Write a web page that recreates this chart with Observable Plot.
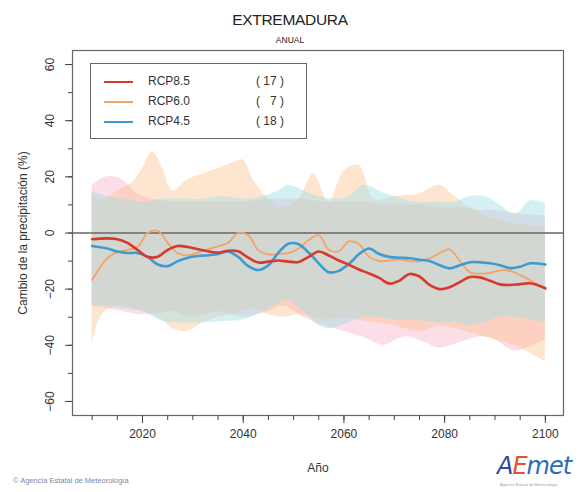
<!DOCTYPE html>
<html>
<head>
<meta charset="utf-8">
<script src="https://cdn.jsdelivr.net/npm/d3@7"></script>
<script src="https://cdn.jsdelivr.net/npm/@observablehq/plot@0.6"></script>
<style>
  html, body { margin: 0; padding: 0; background: #fff; }
  #wrap { position: relative; width: 580px; height: 492px; font-family: "Liberation Sans", Arial, sans-serif; color: #222; overflow: hidden; }
  #wrap svg { position: absolute; left: 0; top: 0; }
  .ov { position: absolute; white-space: nowrap; }
  #title { left: 0; width: 580px; text-align: center; top: 11px; font-size: 15.5px; letter-spacing: -0.3px; }
  #sub { left: 0; width: 580px; text-align: center; top: 35px; font-size: 8.5px; }
  #legend { left: 90px; top: 63px; width: 215px; height: 74px; border: 1px solid #666; background: #fff; font-size: 12px; color: #333; }
  .lrow { position: absolute; left: 0; height: 14px; width: 215px; }
  .lsw { position: absolute; left: 13px; top: 6px; width: 29px; height: 2px; }
  .lname { position: absolute; left: 57px; top: -1px; }
  .lnum { position: absolute; left: 165px; top: -1px; width: 42px; white-space: pre; }
  #foot { left: 13px; top: 476px; font-size: 7.5px; color: #7b88a8; }
  #logo { left: 497px; top: 452px; font-size: 24px; font-style: italic; letter-spacing: -1px; font-family: "DejaVu Sans", sans-serif; }
  #logosub { left: 500px; top: 482px; font-size: 4px; color: #8fa0c0; }
</style>
</head>
<body>
<div id="wrap"></div>
<script>
// ---------- data ----------
const title = "EXTREMADURA";
const subtitle = "ANUAL";
const scenarios = ["RCP8.5", "RCP6.0", "RCP4.5"];
const modelCounts = [17, 7, 18];
const lineColors = ["#d73a2c", "#f2a466", "#3d9ad2"];
const bandColors = ["#f5a0be", "#fcbe87", "#a0dee6"];
const bandOpacity = [0.35, 0.4, 0.45];

const xTicks = [2020, 2040, 2060, 2080, 2100];
const xMinorTicks = [2010, 2015, 2020, 2025, 2030, 2035, 2040, 2045, 2050, 2055, 2060, 2065, 2070, 2075, 2080, 2085, 2090, 2095, 2100];
const yTicks = [-60, -40, -20, 0, 20, 40, 60];
const yMinorTicks = [-60, -50, -40, -30, -20, -10, 0, 10, 20, 30, 40, 50, 60];

// ensemble mean lines
const lineYears = [2010, 2013, 2015, 2017, 2019, 2021, 2023, 2025, 2027, 2029,
  2031, 2033, 2035, 2037, 2039, 2041, 2043, 2045, 2047, 2049,
  2051, 2053, 2055, 2057, 2059, 2061, 2063, 2065, 2067, 2069,
  2071, 2073, 2075, 2077, 2079, 2081, 2083, 2085, 2087, 2089,
  2091, 2093, 2095, 2097, 2100];
const rcp85 = [-2.2, -1.9, -2.2, -3.5, -6, -8.5, -8.5, -6, -4.6, -5,
  -5.8, -6.5, -7, -6.3, -6.5, -8.8, -10.5, -10.2, -9.8, -10.2,
  -10.3, -8.5, -6.6, -8, -9.8, -11.3, -13, -14.4, -16, -18,
  -17, -14.6, -15.5, -18.5, -20, -19.3, -17.5, -15.7, -15.8, -17,
  -18.3, -18.5, -18.2, -17.9, -19.7];
const rcp60 = [-16.7, -9, -6.8, -6, -5, 0, 0.8, -3.5, -7.2, -8,
  -7, -5.8, -4.8, -3.5, 0, -0.8, -6.2, -7.6, -7.5, -7.2,
  -5.5, -2.5, -0.8, -6, -6.5, -3, -4, -8.5, -10, -9.8,
  -9.5, -10, -10, -9, -7.2, -5.8, -10, -14, -14.5, -14.2,
  -13.3, -13.5, -15, -16.8, -20];
const rcp45 = [-4.6, -5.5, -6.6, -7.1, -7.1, -8.5, -11.2, -11.8, -10, -8.8,
  -8.2, -7.9, -7.5, -6.6, -8.5, -11.8, -13.2, -11.5, -7, -3.8,
  -4, -7, -10.8, -14, -13.5, -11, -7.5, -5.5, -7.5, -8.5,
  -8.8, -9, -9.5, -10, -11.5, -12.6, -11.5, -10.4, -10.4, -10.8,
  -11.5, -12.5, -12, -10.8, -11.2];

// spread bands
const years85 = [2010, 2013, 2016, 2019, 2022, 2026, 2030, 2035, 2040, 2045,
  2048, 2052, 2056, 2060, 2065, 2068, 2072, 2076, 2079, 2083,
  2087, 2090, 2094, 2100];
const hi85 = [17, 20, 19, 14, 12, 11, 11, 11, 11, 12,
  12, 12, 11, 11, 11, 10, 10, 10, 9, 9,
  8, 8, 7, 6];
const lo85 = [-26, -27, -28, -29, -29, -28, -30, -28, -30, -28,
  -26, -30, -33, -35, -38, -40, -37, -39, -41, -39,
  -37, -38, -42, -38];

const years60 = [2010, 2012, 2015, 2018, 2020, 2022, 2024, 2026, 2029, 2032,
  2035, 2038, 2040, 2042, 2045, 2048, 2051, 2054, 2057, 2060,
  2063, 2066, 2070, 2075, 2079, 2082, 2086, 2090, 2095, 2100];
const hi60 = [14, 12, 15, 18, 23, 29, 23, 15, 19, 21,
  23, 25, 26, 19, 12, 9, 12, 21, 11, 22,
  24, 12, 13, 14, 17, 13, 8, 5, 3, 2];
const lo60 = [-40, -29, -26, -27, -28, -29, -31, -34, -35, -32,
  -30, -29, -28, -27, -29, -30, -29, -30, -31, -30,
  -31, -32, -33, -35, -33, -34, -36, -38, -41, -46];

const years45 = [2010, 2013, 2016, 2020, 2024, 2028, 2032, 2036, 2040, 2044,
  2047, 2049, 2052, 2055, 2058, 2061, 2064, 2067, 2070, 2074,
  2078, 2082, 2085, 2088, 2091, 2094, 2097, 2100];
const hi45 = [15, 13, 12, 11, 12, 12, 12, 13, 12, 13,
  15, 17, 15, 13, 12, 13, 17, 15, 13, 11,
  11, 11, 13, 13, 10, 6.5, 11.5, 10.5];
const lo45 = [-26, -26, -27, -28, -31.5, -32, -32, -31.5, -31, -28,
  -25, -24, -28, -33, -34, -32, -30, -30, -31, -31,
  -32, -32, -33, -32, -30, -30, -31, -32];

// ---------- tables ----------
const bandSets = [
  years85.map((x, i) => ({x, lo: lo85[i], hi: hi85[i]})),
  years60.map((x, i) => ({x, lo: lo60[i], hi: hi60[i]})),
  years45.map((x, i) => ({x, lo: lo45[i], hi: hi45[i]}))
];
const lines = [
  ...lineYears.map((x, i) => ({x, y: rcp60[i], s: scenarios[1]})),
  ...lineYears.map((x, i) => ({x, y: rcp45[i], s: scenarios[2]})),
  ...lineYears.map((x, i) => ({x, y: rcp85[i], s: scenarios[0]}))
];

const chart = Plot.plot({
  width: 580,
  height: 492,
  marginLeft: 72,
  marginRight: 17,
  marginTop: 50,
  marginBottom: 77,
  style: {fontFamily: "'Liberation Sans', Arial, sans-serif", fontSize: "12px", color: "#333", background: "transparent"},
  x: {domain: [2006.1, 2103.6]},
  y: {domain: [-65, 65]},
  color: {domain: scenarios, range: lineColors},
  marks: [
    ...bandSets.map((data, k) => Plot.areaY(data, {x: "x", y1: "lo", y2: "hi", fill: bandColors[k], fillOpacity: bandOpacity[k], curve: "catmull-rom"})),
    Plot.ruleY([0], {stroke: "#666", strokeWidth: 1.5}),
    Plot.line(lines, {x: "x", y: "y", z: "s", stroke: "s", strokeWidth: d => d.s === "RCP6.0" ? 1.8 : 2.6, curve: "catmull-rom"}),
    Plot.frame({stroke: "#666", strokeWidth: 1.2}),
    Plot.axisX(xMinorTicks, {tickSize: 5, text: null, stroke: "#444", label: null}),
    Plot.axisX(xTicks, {tickSize: 8, tickPadding: 6, stroke: "#444", tickFormat: d => String(d), label: "Año", labelAnchor: "center", labelOffset: 56, labelArrow: "none", fontSize: 12}),
    Plot.axisY(yMinorTicks, {tickSize: 4, text: null, stroke: "#444", label: null}),
    Plot.axisY(yTicks, {tickSize: 7, tickPadding: 12, tickRotate: -90, stroke: "#444", label: "Cambio de la precipitación (%)", labelAnchor: "center", labelOffset: 54, labelArrow: "none", fontSize: 12})
  ]
});

const wrap = document.getElementById("wrap");
wrap.appendChild(chart);

function addDiv(id, text) {
  const d = document.createElement("div");
  d.className = "ov";
  d.id = id;
  if (text != null) d.textContent = text;
  wrap.appendChild(d);
  return d;
}
addDiv("title", title);
addDiv("sub", subtitle);

const legend = addDiv("legend");
scenarios.forEach((s, i) => {
  const row = document.createElement("div");
  row.className = "lrow";
  row.style.top = (11 + i * 20) + "px";
  const sw = document.createElement("div");
  sw.className = "lsw";
  sw.style.background = lineColors[i];
  const nm = document.createElement("div");
  nm.className = "lname";
  nm.textContent = s;
  const nu = document.createElement("div");
  nu.className = "lnum";
  nu.textContent = "( " + String(modelCounts[i]).padStart(2, "\u2007") + " )";
  row.append(sw, nm, nu);
  legend.appendChild(row);
});

addDiv("foot", "\u00A9 Agencia Estatal de Meteorología");
const logo = addDiv("logo");
logo.innerHTML = '<span style="color:#2a4c9a">A</span><span style="color:#e8502a">E</span><span style="color:#2a6cb8">met</span>';
addDiv("logosub", "Agencia Estatal de Meteorología");
</script>
</body>
</html>
